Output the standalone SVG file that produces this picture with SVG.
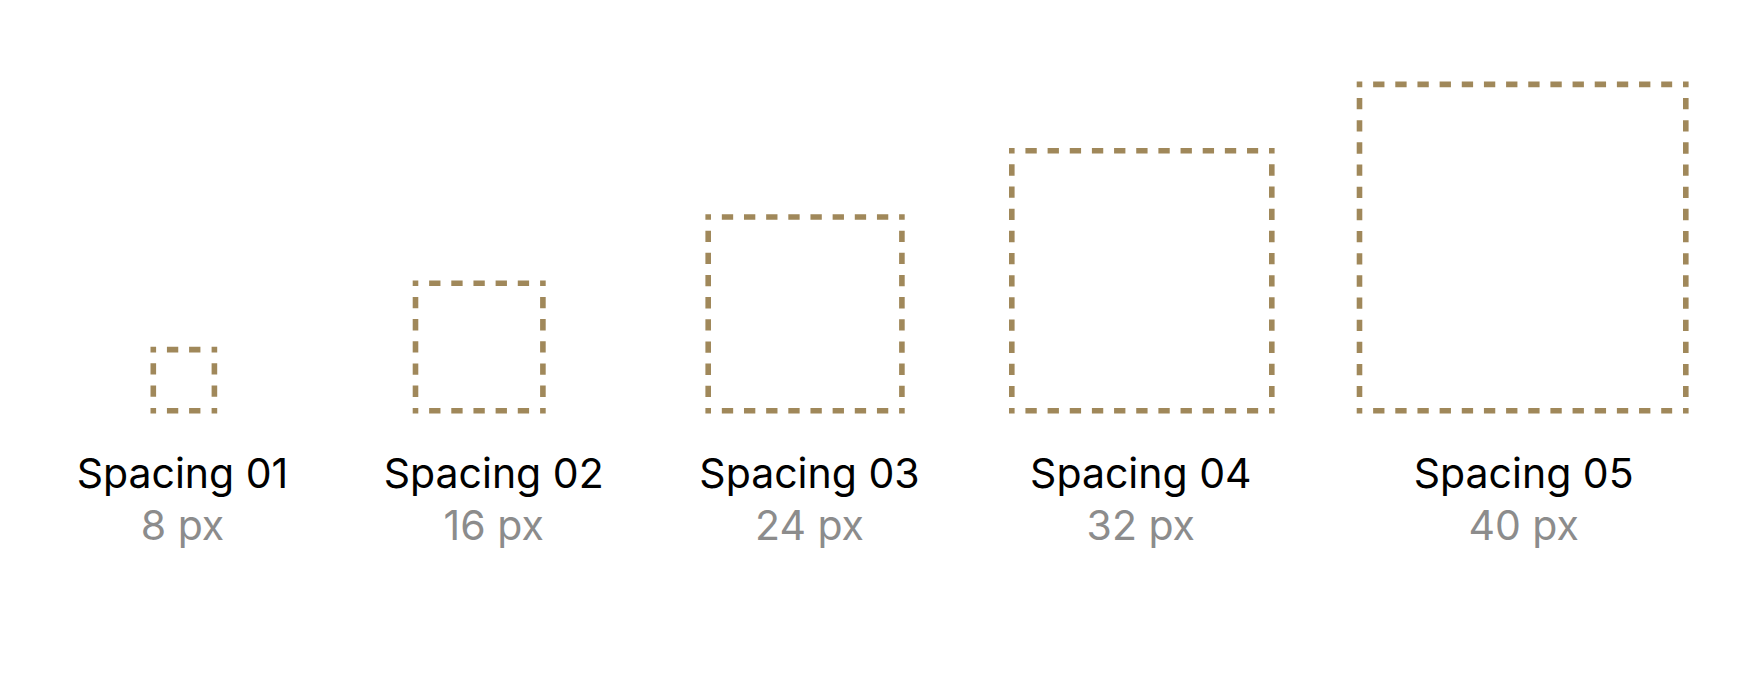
<svg xmlns="http://www.w3.org/2000/svg" width="1764" height="677" viewBox="0 0 1764 677">
<style>
.side{fill:none;stroke:#A0885A;stroke-width:5.6;stroke-dasharray:11.33 10.83;stroke-linecap:butt}
.corner{fill:#A0885A;stroke:none}
.name{font-family:Inter,"Noto Sans",sans-serif;font-size:41px;fill:#000;text-anchor:middle}
.val{font-family:Inter,"Noto Sans",sans-serif;font-size:41px;fill:#8C8C8C;text-anchor:middle}
</style>
<rect width="1764" height="677" fill="#fff"/>
<g id="spacing01">
<path class="side" d="M166.93 349.6H200.77M214.4 363.23V397.07M166.93 410.7H200.77M153.3 363.23V397.07"/>
<path class="corner" d="M150.5 346.8h5.6v5.6h-5.6zM211.6 346.8h5.6v5.6h-5.6zM150.5 407.9h5.6v5.6h-5.6zM211.6 407.9h5.6v5.6h-5.6z"/>
<text class="name" x="182.5" y="488">Spacing 01</text>
<text class="val" x="182.5" y="540">8 px</text>
</g>
<g id="spacing02">
<path class="side" d="M429.13 283.3H529.27M542.9 296.93V397.07M429.13 410.7H529.27M415.5 296.93V397.07"/>
<path class="corner" d="M412.7 280.5h5.6v5.6h-5.6zM540.1 280.5h5.6v5.6h-5.6zM412.7 407.9h5.6v5.6h-5.6zM540.1 407.9h5.6v5.6h-5.6z"/>
<text class="name" x="493.7" y="488">Spacing 02</text>
<text class="val" x="493.7" y="540">16 px</text>
</g>
<g id="spacing03">
<path class="side" d="M721.83 217H888.27M901.9 230.63V397.07M721.83 410.7H888.27M708.2 230.63V397.07"/>
<path class="corner" d="M705.4 214.2h5.6v5.6h-5.6zM899.1 214.2h5.6v5.6h-5.6zM705.4 407.9h5.6v5.6h-5.6zM899.1 407.9h5.6v5.6h-5.6z"/>
<text class="name" x="809.5" y="488">Spacing 03</text>
<text class="val" x="809.5" y="540">24 px</text>
</g>
<g id="spacing04">
<path class="side" d="M1025.43 150.7H1258.17M1271.8 164.33V397.07M1025.43 410.7H1258.17M1011.8 164.33V397.07"/>
<path class="corner" d="M1009 147.9h5.6v5.6h-5.6zM1269 147.9h5.6v5.6h-5.6zM1009 407.9h5.6v5.6h-5.6zM1269 407.9h5.6v5.6h-5.6z"/>
<text class="name" x="1140.8" y="488">Spacing 04</text>
<text class="val" x="1140.8" y="540">32 px</text>
</g>
<g id="spacing05">
<path class="side" d="M1373.13 84.4H1672.17M1685.8 98.03V397.07M1373.13 410.7H1672.17M1359.5 98.03V397.07"/>
<path class="corner" d="M1356.7 81.6h5.6v5.6h-5.6zM1683 81.6h5.6v5.6h-5.6zM1356.7 407.9h5.6v5.6h-5.6zM1683 407.9h5.6v5.6h-5.6z"/>
<text class="name" x="1523.7" y="488">Spacing 05</text>
<text class="val" x="1523.7" y="540">40 px</text>
</g>
<g id="connectors"/>
</svg>
